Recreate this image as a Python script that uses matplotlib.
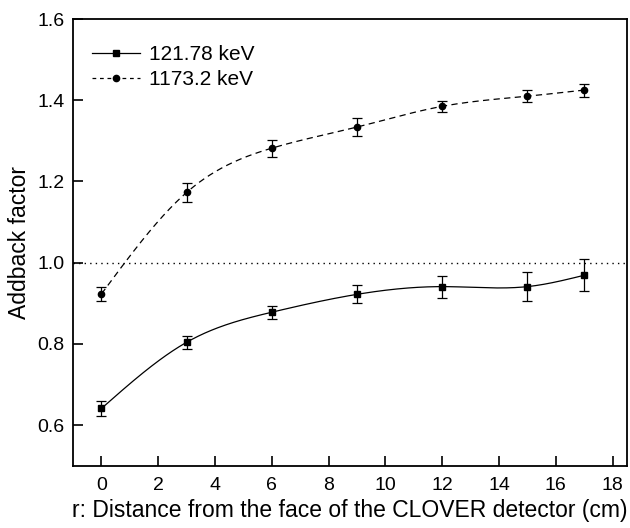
import numpy as np
import matplotlib
matplotlib.use("Agg")
import matplotlib.pyplot as plt

plt.rcParams['font.family'] = ['Liberation Sans', 'DejaVu Sans']

# distance r (cm)
r = [0, 3, 6, 9, 12, 15, 17]

# 121.78 keV
low_y = [0.641, 0.804, 0.878, 0.922, 0.941, 0.941, 0.969]
low_err = [0.018, 0.016, 0.016, 0.022, 0.027, 0.035, 0.039]

# 1173.2 keV
high_y = [0.923, 1.173, 1.282, 1.334, 1.385, 1.410, 1.425]
high_err = [0.018, 0.023, 0.021, 0.022, 0.014, 0.014, 0.016]

xticks = [0, 2, 4, 6, 8, 10, 12, 14, 16, 18]
yticks = [0.6, 0.8, 1.0, 1.2, 1.4, 1.6]


def smooth(x, y, n=300):
    # natural cubic spline through the points (drawing only)
    x = np.asarray(x, float)
    y = np.asarray(y, float)
    k = len(x)
    h = np.diff(x)
    A = np.zeros((k, k))
    b = np.zeros(k)
    A[0, 0] = A[-1, -1] = 1
    for i in range(1, k - 1):
        A[i, i - 1] = h[i - 1]
        A[i, i] = 2 * (h[i - 1] + h[i])
        A[i, i + 1] = h[i]
        b[i] = 6 * ((y[i + 1] - y[i]) / h[i] - (y[i] - y[i - 1]) / h[i - 1])
    m = np.linalg.solve(A, b)
    xs = np.linspace(x[0], x[-1], n)
    idx = np.clip(np.searchsorted(x, xs) - 1, 0, k - 2)
    x0, x1 = x[idx], x[idx + 1]
    hh = x1 - x0
    t0, t1 = x1 - xs, xs - x0
    ys = (m[idx] * t0 ** 3 + m[idx + 1] * t1 ** 3) / (6 * hh) \
        + (y[idx] / hh - m[idx] * hh / 6) * t0 \
        + (y[idx + 1] / hh - m[idx + 1] * hh / 6) * t1
    return xs, ys


fig = plt.figure(figsize=(6.3, 5.28), dpi=100)
ax = fig.add_axes([0.116, 0.118, 0.879, 0.846])

# reference line
ax.axhline(1.0, color='black', lw=1.0, linestyle=(0, (1, 3)))

xs, ys = smooth(r, low_y)
ax.plot(xs, ys, color='black', lw=0.9)
xs, ys = smooth(r, high_y)
ax.plot(xs, ys, color='black', lw=0.9, dashes=[5, 3.5])

ax.errorbar(r, low_y, yerr=low_err, fmt='s', color='black', ms=5,
            capsize=3.5, elinewidth=0.9, capthick=0.9)
ax.errorbar(r, high_y, yerr=high_err, fmt='o', color='black', ms=4.5,
            capsize=3.5, elinewidth=0.9, capthick=0.9)

# legend proxies
ax.plot([], [], color='black', lw=0.9, marker='s', ms=5, label='121.78 keV')
ax.plot([], [], color='black', lw=0.9, marker='o', ms=4.5, dashes=[3, 3],
        label='1173.2 keV')
ax.legend(loc='upper left', bbox_to_anchor=(0.02, 0.96), frameon=False,
          fontsize=15, handlelength=2.3, handletextpad=0.4, labelspacing=0.3,
          borderaxespad=0)

ax.set_xlim(-1, 18.5)
ax.set_ylim(0.5, 1.6)
ax.set_xticks(xticks)
ax.set_yticks(yticks)
ax.set_yticklabels([f'{v:.1f}' for v in yticks])
ax.tick_params(direction='in', length=7, width=1.2, labelsize=14,
               top=False, right=False)
ax.tick_params(axis='x', pad=8)
ax.tick_params(axis='y', pad=6)
for s in ax.spines.values():
    s.set_linewidth(1.3)

ax.set_xlabel('r: Distance from the face of the CLOVER detector (cm)',
              fontsize=16.5, labelpad=4)
ax.set_ylabel('Addback factor', fontsize=16.5, labelpad=5)

fig.savefig('out.png', dpi=100)
